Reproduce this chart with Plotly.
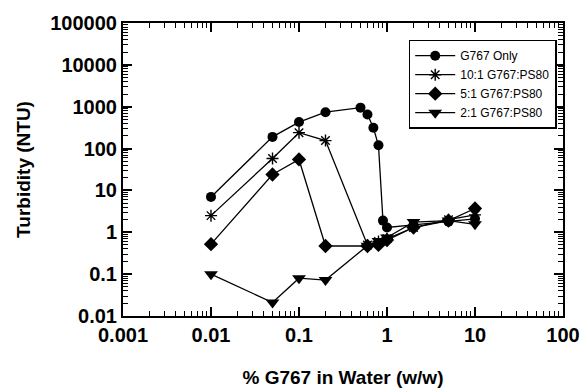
import plotly.graph_objects as go

# Data
x_only = [0.01, 0.05, 0.1, 0.2, 0.5, 0.6, 0.7, 0.8, 0.9, 1.0, 2.0, 5.0, 10.0]
y_only = [7.0, 190, 430, 740, 950, 650, 315, 120, 1.9, 1.3, 1.5, 1.8, 2.1]

x_10 = [0.01, 0.05, 0.1, 0.2, 0.6, 0.8, 1.0, 2.0, 5.0, 10.0]
y_10 = [2.5, 58, 240, 155, 0.5, 0.6, 0.7, 1.3, 2.0, 2.6]

x_5 = [0.01, 0.05, 0.1, 0.2, 0.6, 0.8, 1.0, 2.0, 5.0, 10.0]
y_5 = [0.52, 24, 55, 0.47, 0.47, 0.5, 0.65, 1.3, 1.9, 3.7]

x_2 = [0.01, 0.05, 0.1, 0.2, 0.6, 0.8, 1.0, 2.0, 5.0, 10.0]
y_2 = [0.1, 0.021, 0.08, 0.072, 0.48, 0.62, 0.75, 1.75, 1.9, 1.55]

names = ["G767 Only", "10:1 G767:PS80", "5:1 G767:PS80", "2:1 G767:PS80"]

x_ticks = [0.001, 0.01, 0.1, 1, 10, 100]
x_ticklabels = ["0.001", "0.01", "0.1", "1", "10", "100"]
y_ticks = [0.01, 0.1, 1, 10, 100, 1000, 10000, 100000]
y_ticklabels = ["0.01", "0.1", "1", "10", "100", "1000", "10000", "100000"]

x_minor = [m * 10 ** e for e in range(-3, 2) for m in range(2, 10)]
y_minor = [m * 10 ** e for e in range(-2, 5) for m in range(2, 10)]

fig = go.Figure()
styles = [
    dict(symbol="circle", size=10, color="black"),
    dict(symbol="asterisk-open", size=10, color="black", line=dict(width=1.4, color="black")),
    dict(symbol="diamond", size=11, color="black"),
    dict(symbol="triangle-down", size=12, color="black"),
]
for (xs, ys), nm, st in zip([(x_only, y_only), (x_10, y_10), (x_5, y_5), (x_2, y_2)], names, styles):
    fig.add_trace(go.Scatter(
        x=xs, y=ys, name=nm, mode="lines+markers",
        line=dict(color="black", width=1.3),
        marker=st,
    ))

axis_font = dict(family="Liberation Sans, Arial", size=20, color="black", weight="bold")
common = dict(
    type="log", showline=True, linecolor="black", linewidth=2, mirror="allticks",
    ticks="inside", ticklen=9, tickwidth=1.5, tickcolor="black",
    showgrid=False, zeroline=False, tickfont=axis_font, automargin=False,
)
fig.update_xaxes(
    range=[-3, 2], tickvals=x_ticks, ticktext=x_ticklabels,
    minor=dict(tickvals=x_minor, ticks="inside", ticklen=5, tickwidth=1.2, tickcolor="black"),
    title=dict(text="% G767 in Water (w/w)", font=dict(family="Liberation Sans, Arial", size=19, color="black", weight="bold"), standoff=30),
    **common,
)
fig.update_yaxes(
    range=[-2, 5], tickvals=y_ticks, ticktext=y_ticklabels,
    minor=dict(tickvals=y_minor, ticks="inside", ticklen=5, tickwidth=1.2, tickcolor="black"),
    title=dict(text="Turbidity (NTU)", font=dict(family="Liberation Sans, Arial", size=19, color="black", weight="bold"), standoff=15),
    **common,
)
fig.update_layout(
    width=582, height=388,
    margin=dict(l=123, r=19, t=23, b=72),
    paper_bgcolor="white", plot_bgcolor="white",
    showlegend=True,
    legend=dict(
        x=0.9857, y=0.943, xanchor="right", yanchor="top",
        bordercolor="black", borderwidth=1.5, bgcolor="white",
        font=dict(family="Liberation Sans, Arial", size=12, color="black"),
        itemwidth=40, tracegroupgap=0,
    ),
)
fig.write_html("out.html")
